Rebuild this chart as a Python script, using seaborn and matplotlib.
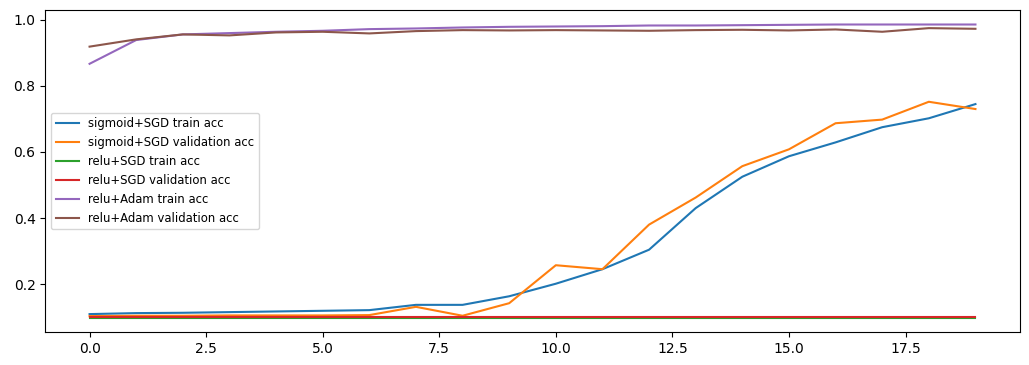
import numpy as np
import pandas as pd
import matplotlib
matplotlib.use("Agg")
import matplotlib.pyplot as plt
import seaborn as sns

epochs = list(range(20))
sigmoid_sgd_train = [0.109, 0.112, 0.113, 0.115, 0.117, 0.119, 0.121, 0.137, 0.137, 0.163,
                     0.201, 0.245, 0.304, 0.430, 0.525, 0.587, 0.629, 0.675, 0.702, 0.745]
sigmoid_sgd_val = [0.103, 0.104, 0.104, 0.105, 0.105, 0.105, 0.106, 0.131, 0.104, 0.142,
                   0.257, 0.245, 0.380, 0.462, 0.557, 0.608, 0.687, 0.698, 0.752, 0.730]
relu_sgd_train = [0.0987] * 20
relu_sgd_val = [0.1009] * 20
relu_adam_train = [0.867, 0.939, 0.956, 0.960, 0.964, 0.967, 0.972, 0.974, 0.977, 0.979,
                   0.980, 0.981, 0.983, 0.983, 0.984, 0.985, 0.986, 0.986, 0.986, 0.986]
relu_adam_val = [0.919, 0.941, 0.956, 0.953, 0.962, 0.964, 0.959, 0.966, 0.969, 0.968,
                 0.969, 0.968, 0.967, 0.969, 0.970, 0.968, 0.971, 0.964, 0.975, 0.973]

labels = ["sigmoid+SGD train acc", "sigmoid+SGD validation acc", "relu+SGD train acc",
          "relu+SGD validation acc", "relu+Adam train acc", "relu+Adam validation acc"]
series = [sigmoid_sgd_train, sigmoid_sgd_val, relu_sgd_train, relu_sgd_val,
          relu_adam_train, relu_adam_val]

df = pd.concat([pd.DataFrame({"epoch": epochs, "acc": s, "series": l})
                for s, l in zip(series, labels)], ignore_index=True)

fig, ax = plt.subplots(figsize=(10.29, 3.65), dpi=100)
fig.subplots_adjust(left=0.044, right=0.991, top=0.973, bottom=0.09)
sns.lineplot(data=df, x="epoch", y="acc", hue="series", hue_order=labels,
             palette=sns.color_palette("tab10", 6), ax=ax, linewidth=1.5)
ax.set_xlabel("")
ax.set_ylabel("")
ax.legend(loc="center left", title=None, fontsize=8.4)
fig.savefig("out.png", dpi=100)
